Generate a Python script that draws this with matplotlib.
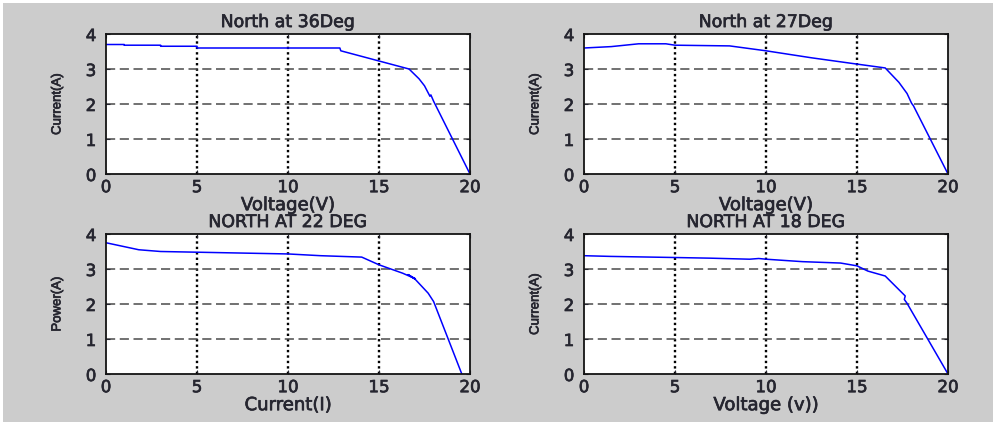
import matplotlib.pyplot as plt
import matplotlib.patheffects as pe

# North at 36 deg
v36 = [0, 1.0, 1.0, 3.0, 3.0, 5.0, 5.0, 12.85, 12.9, 16.65, 17.2, 17.5, 17.8, 17.85, 18.0, 20.0]
i36 = [3.70, 3.70, 3.68, 3.68, 3.65, 3.65, 3.60, 3.60, 3.52, 3.00, 2.72, 2.52, 2.22, 2.26, 2.08, 0.0]

# North at 27 deg
v27 = [0, 1.5, 3.0, 4.5, 5.0, 8.0, 10.0, 12.5, 15.0, 16.55, 17.3, 17.75, 18.0, 18.1, 20.0]
i27 = [3.60, 3.64, 3.72, 3.72, 3.68, 3.66, 3.52, 3.32, 3.14, 3.03, 2.62, 2.30, 2.02, 1.95, 0.0]

# North at 22 deg
v22 = [0, 1.8, 3.0, 5.0, 10.0, 11.8, 14.05, 15.0, 16.3, 17.0, 16.6, 17.0, 17.7, 18.0, 19.55]
i22 = [3.75, 3.55, 3.50, 3.48, 3.43, 3.38, 3.34, 3.12, 2.88, 2.72, 2.84, 2.70, 2.31, 2.07, 0.0]

# North at 18 deg
v18 = [0, 1.45, 4.8, 6.9, 9.1, 9.6, 10.0, 12.0, 14.1, 15.0, 15.6, 16.55, 17.65, 17.6, 17.75, 20.0]
i18 = [3.38, 3.36, 3.33, 3.31, 3.28, 3.30, 3.28, 3.21, 3.17, 3.09, 2.94, 2.80, 2.23, 2.13, 2.02, 0.0]

panels = [
    (v36, i36, "North at 36Deg", "Voltage(V)", "Current(A)"),
    (v27, i27, "North at 27Deg", "Voltage(V)", "Current(A)"),
    (v22, i22, "NORTH AT 22 DEG", "Current(I)", "Power(A)"),
    (v18, i18, "NORTH AT 18 DEG", "Voltage (v))", "Current(A)"),
]

txt = "#262630"
thick = [pe.withStroke(linewidth=0.5, foreground=txt)]

W, H = 993, 422
fig = plt.figure(figsize=(W / 100, H / 100), dpi=100, facecolor="white")
# gray figure area with thin white margin at top/left
bg = fig.add_axes([3 / W, 0, 1 - 3 / W, 1 - 3 / H])
bg.set_facecolor("#cccccc")
bg.set_xticks([])
bg.set_yticks([])
for s in bg.spines.values():
    s.set_visible(False)

boxes = [(106, 34), (584, 34), (106, 234), (584, 234)]
aw, ah = 364, 140

for (x, y, title, xl, yl), (px, py) in zip(panels, boxes):
    ax = fig.add_axes([px / W, 1 - (py + ah) / H, aw / W, ah / H])
    ax.set_facecolor("white")
    ax.plot(x, y, color="#0000ff", lw=1.1)
    ax.set_xlim(0, 20)
    ax.set_ylim(0, 4)
    ax.set_xticks([0, 5, 10, 15, 20])
    ax.set_yticks([0, 1, 2, 3, 4])
    for xv in [5, 10, 15]:
        ax.axvline(xv, color="black", ls=(0, (1, 1.3)), lw=1.7, zorder=0)
    for yv in [1, 2, 3]:
        ax.axhline(yv, color="#4a4a4a", ls=(0, (6, 3)), lw=1.1, zorder=0)
    ax.tick_params(direction="in", length=3, labelsize=12, pad=3,
                   colors=txt, top=True, right=True)
    ax.tick_params(axis="y", pad=7)
    for s in ax.spines.values():
        s.set_linewidth(1.3)
        s.set_color("#141414")
    ax.set_title(title, fontsize=12.5, pad=5, family="DejaVu Sans", color=txt,
                 path_effects=thick)
    ax.set_xlabel(xl, fontsize=13, labelpad=0, family="DejaVu Sans", color=txt,
                  path_effects=thick)
    ax.set_ylabel(yl, fontsize=9.5, labelpad=16, color=txt,
                  family="Liberation Sans", path_effects=thick)
    for lab in ax.get_xticklabels() + ax.get_yticklabels():
        lab.set_family("DejaVu Sans")
        lab.set_path_effects(thick)

fig.savefig("out.png", dpi=100, facecolor=fig.get_facecolor())
